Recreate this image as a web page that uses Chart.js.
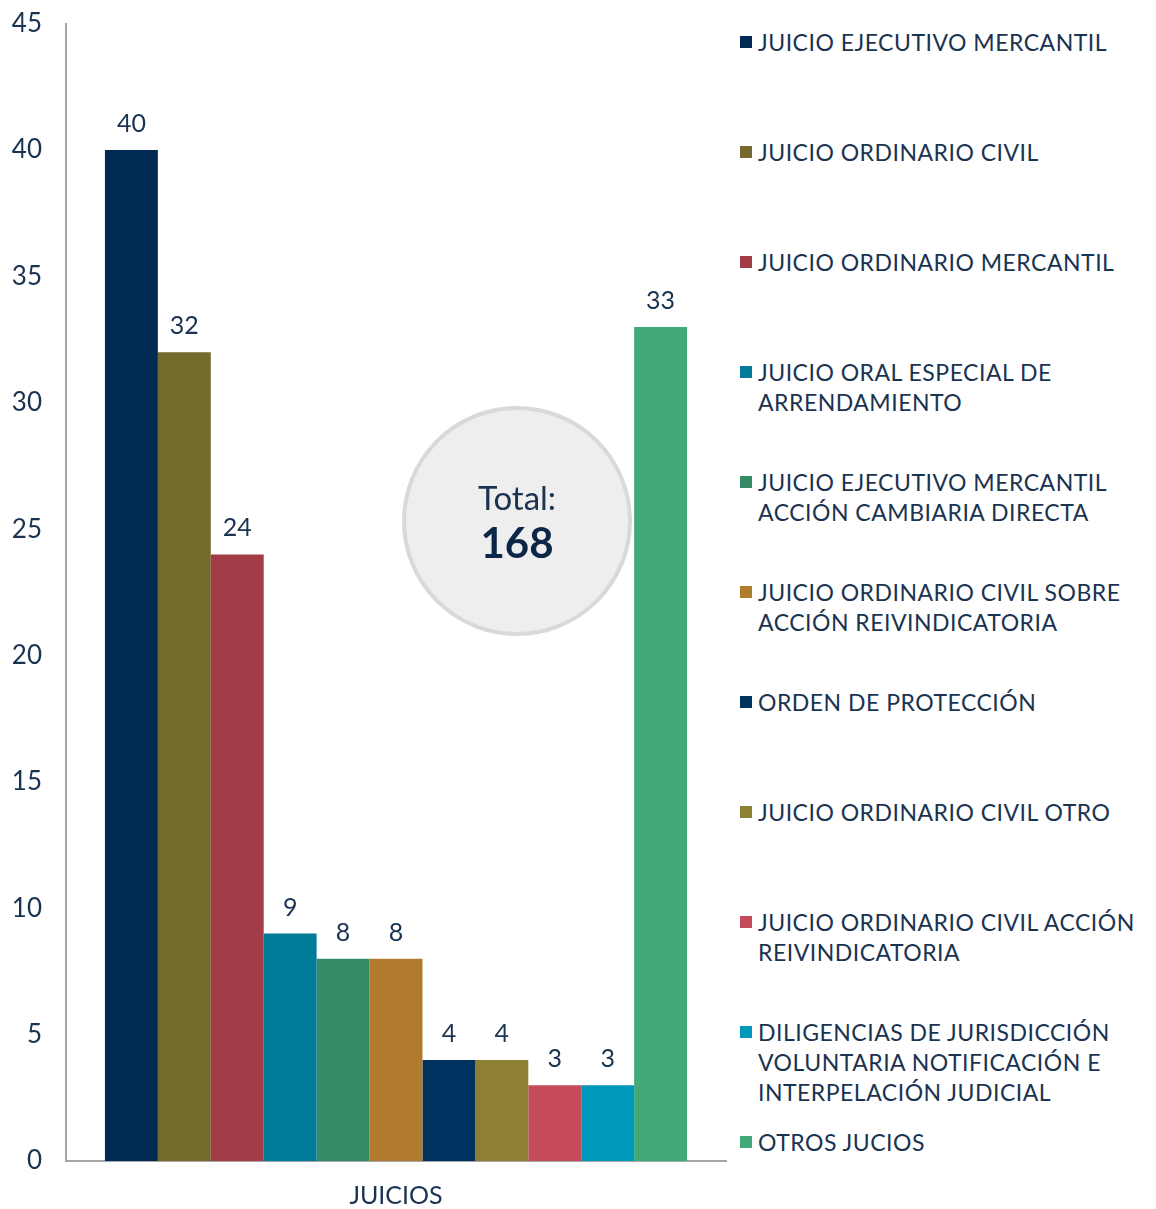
<!DOCTYPE html>
<html>
<head>
<meta charset="utf-8">
<script src="https://cdn.jsdelivr.net/npm/chart.js@4/dist/chart.umd.min.js"></script>
<style>
  html, body { margin: 0; padding: 0; background: #fff; }
  body { width: 1156px; height: 1209px; position: relative; overflow: hidden; font-family: 'Lato', sans-serif; color: #1a3350; }
  #wrap { position: absolute; left: 0; top: -16px; width: 730px; height: 1225px; }
  #legend { position: absolute; left: 740px; top: 27px; width: 416px; }
  .item { height: 110px; position: relative; }
  .item .box { position: absolute; left: 0; top: 9px; width: 12px; height: 12px; }
  .item .txt { position: absolute; left: 18px; top: 0; font-size: 23px; line-height: 30px; letter-spacing: 0.5px; white-space: nowrap; }
  #total { position: absolute; left: 402px; top: 406px; width: 230px; height: 230px; box-sizing: border-box;
           border: 4px solid #d9d9d9; border-radius: 50%; background: #eeeeee; text-align: center; }
  #total .t1 { position: absolute; left: 0; right: 0; top: 67px; font-size: 33px; line-height: 40px; }
  #total .t2 { position: absolute; left: 0; right: 0; top: 108px; font-size: 42px; line-height: 48px; font-weight: bold; color: #0b2646; }
</style>
</head>
<body>
<div id="wrap"><canvas id="chart" width="730" height="1225"></canvas></div>
<div id="total"><div class="t1">Total:</div><div class="t2" id="totalNum"></div></div>
<div id="legend"></div>
<script>
(function() {

  // ── Data ──
  var category = ['JUICIOS'];
  var seriesNames = [
    ['JUICIO EJECUTIVO MERCANTIL'],
    ['JUICIO ORDINARIO CIVIL'],
    ['JUICIO ORDINARIO MERCANTIL'],
    ['JUICIO ORAL ESPECIAL DE', 'ARRENDAMIENTO'],
    ['JUICIO EJECUTIVO MERCANTIL', 'ACCIÓN CAMBIARIA DIRECTA'],
    ['JUICIO ORDINARIO CIVIL SOBRE', 'ACCIÓN REIVINDICATORIA'],
    ['ORDEN DE PROTECCIÓN'],
    ['JUICIO ORDINARIO CIVIL OTRO'],
    ['JUICIO ORDINARIO CIVIL ACCIÓN', 'REIVINDICATORIA'],
    ['DILIGENCIAS DE JURISDICCIÓN', 'VOLUNTARIA NOTIFICACIÓN E', 'INTERPELACIÓN JUDICIAL'],
    ['OTROS JUCIOS']
  ];
  var seriesValues = [40, 32, 24, 9, 8, 8, 4, 4, 3, 3, 33];
  var seriesColors = ['#002A54', '#746A2B', '#A23D48', '#007C98', '#348B65', '#B07B2E',
                      '#00325F', '#8E8033', '#C54A5A', '#0099BB', '#42A978'];
  var yTicks = [0, 5, 10, 15, 20, 25, 30, 35, 40, 45];

  var textColor = '#1a3350';
  var fontFamily = 'Lato, sans-serif';

  // ── Datasets ──
  var datasets = seriesValues.map(function(v, i) {
    return {
      label: seriesNames[i].join(' '),
      data: [v],
      backgroundColor: seriesColors[i],
      borderWidth: 0,
      categoryPercentage: 0.882,
      barPercentage: 1
    };
  });

  // ── Value labels above bars ──
  var valueLabels = {
    id: 'valueLabels',
    afterDatasetsDraw: function(chart) {
      var ctx = chart.ctx;
      ctx.save();
      ctx.fillStyle = textColor;
      ctx.font = '25px ' + fontFamily;
      ctx.textAlign = 'center';
      ctx.textBaseline = 'middle';
      chart.data.datasets.forEach(function(ds, i) {
        var bar = chart.getDatasetMeta(i).data[0];
        ctx.fillText(String(ds.data[0]), bar.x, bar.y - 26);
      });
      ctx.restore();
    }
  };

  new Chart(document.getElementById('chart').getContext('2d'), {
    type: 'bar',
    data: { labels: category, datasets: datasets },
    plugins: [valueLabels],
    options: {
      responsive: false,
      animation: false,
      layout: { padding: { top: 0, right: 4, left: 0, bottom: 0 } },
      plugins: { legend: { display: false }, tooltip: { enabled: false } },
      scales: {
        x: {
          grid: { display: false, drawTicks: false },
          border: { display: true, color: '#a6a6a6', width: 2 },
          ticks: { color: textColor, font: { size: 25, family: fontFamily }, padding: 20 },
          afterFit: function(scale) { scale.height = 48; }
        },
        y: {
          min: 0,
          max: 45,
          grid: { display: false, drawTicks: false },
          border: { display: true, color: '#a6a6a6', width: 2 },
          afterBuildTicks: function(scale) {
            scale.ticks = yTicks.map(function(v) { return { value: v }; });
          },
          ticks: { color: textColor, font: { size: 26, family: fontFamily }, padding: 24 },
          afterFit: function(scale) { scale.width = 66; }
        }
      }
    }
  });

  // ── Total bubble ──
  var total = seriesValues.reduce(function(a, b) { return a + b; }, 0);
  document.getElementById('totalNum').textContent = String(total);

  // ── HTML legend ──
  var legend = document.getElementById('legend');
  seriesNames.forEach(function(lines, i) {
    var item = document.createElement('div');
    item.className = 'item';
    var box = document.createElement('div');
    box.className = 'box';
    box.style.background = seriesColors[i];
    var txt = document.createElement('div');
    txt.className = 'txt';
    lines.forEach(function(line, j) {
      if (j > 0) txt.appendChild(document.createElement('br'));
      txt.appendChild(document.createTextNode(line));
    });
    item.appendChild(box);
    item.appendChild(txt);
    legend.appendChild(item);
  });

})();
</script>
</body>
</html>
